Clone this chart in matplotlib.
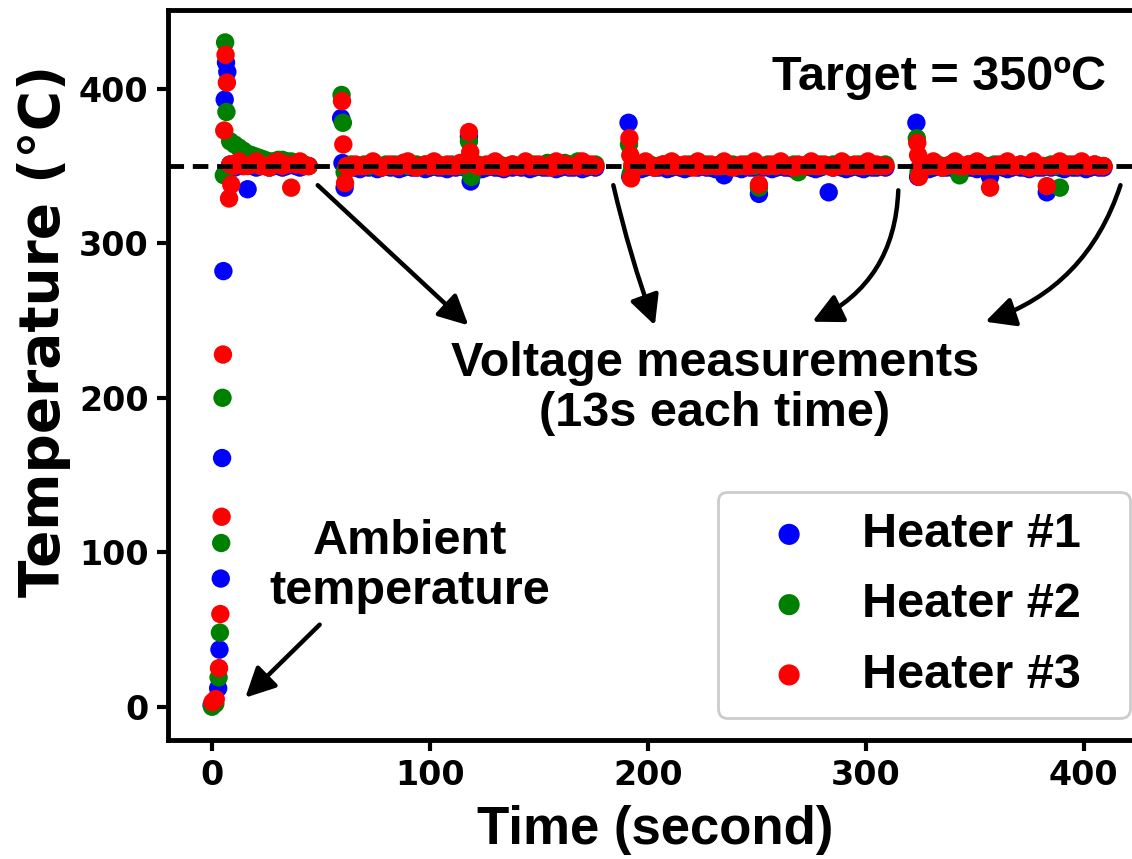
import numpy as np
import matplotlib
matplotlib.use("Agg")
import matplotlib.pyplot as plt

plt.rcParams["font.family"] = ["Liberation Sans", "DejaVu Sans"]
plt.rcParams["font.weight"] = "bold"

# ---------------------------------------------------------------- data
target_temp = 350
sample_dt = 2.0                      # logger interval during steady runs (s)
run_starts = [8.5, 62.0, 193.0, 325.0]

heater_names = ["Heater #1", "Heater #2", "Heater #3"]
heater_colors = ["blue", "green", "red"]

# warm-up from ambient
h1_startup_t = [0.0, 1.5, 3.0, 3.6, 4.2, 4.8, 5.4, 6.0, 6.6, 7.2]
h1_startup_T = [1, 2, 12, 37, 83, 161, 282, 393, 417, 411]
h2_startup_t = [0.2, 1.7, 3.2, 3.8, 4.4, 5.0, 5.6, 6.2, 6.8]
h2_startup_T = [0, 2, 19, 48, 106, 200, 344, 430, 385]
h3_startup_t = [0.4, 1.9, 3.4, 4.0, 4.6, 5.2, 5.8, 6.4, 7.0, 8.0, 9.0]
h3_startup_T = [3, 5, 25, 60, 123, 228, 373, 422, 404, 329, 338]

# restart transients after each voltage measurement
h1_kick_t = [59.4, 60.0, 61.0, 118.8, 191.2, 192.0, 323.2, 324.0]
h1_kick_T = [381, 352, 336, 340, 378, 343, 378, 343]
h2_kick_t = [59.6, 60.2, 61.0, 119.2, 191.4, 192.2, 323.4, 324.2]
h2_kick_T = [396, 378, 346, 343, 364, 345, 368, 346]
h3_kick_t = [59.8, 60.4, 61.2, 118.6, 191.6, 192.0, 192.4, 323.6, 324.0, 324.4]
h3_kick_T = [392, 364, 339, 359, 368, 357, 342, 365, 357, 343]

# steady runs (one list per run, sampled every sample_dt from run_starts)
h1_runs = [
    [351, 349, 350, 350, 335, 350, 349, 350, 351, 349, 350, 350, 349, 350,
     351, 350, 349, 350, 350],
    [349, 350, 349, 348, 350, 349, 350, 348, 349, 350,
     349, 350, 348, 349, 350, 349, 349, 350, 348, 349,
     350, 349, 349, 348, 350, 349, 350, 349, 369, 349,
     350, 348, 349, 350, 349, 349, 348, 350, 349, 350,
     349, 350, 348, 349, 350, 349, 349, 350, 348, 349,
     350, 349, 349, 350, 348, 349, 350, 349],
    [349, 350, 348, 349, 350, 349, 349, 350, 348, 349,
     350, 349, 348, 349, 350, 349, 350, 349, 349, 348,
     349, 344, 349, 350, 349, 348, 350, 349, 349, 332,
     349, 350, 348, 349, 350, 349, 349, 348, 350, 349,
     350, 349, 348, 349, 350, 333, 349, 350, 349, 348,
     349, 350, 349, 348, 350, 349, 349, 350, 349],
    [349, 350, 348, 349, 350, 349, 349, 350, 348, 349,
     350, 349, 349, 348, 350, 349, 343, 349, 350, 349,
     348, 349, 350, 349, 349, 348, 350, 349, 349, 333,
     349, 350, 349, 348, 350, 349, 349, 350, 348, 349,
     350, 349, 349],
]
h2_runs = [
    [366, 364, 362, 360, 358, 357, 356, 355, 354, 353, 353, 354, 354, 353,
     353, 352, 352, 351, 350],
    [350, 351, 350, 350, 351, 350, 351, 350, 350, 351,
     350, 351, 350, 352, 350, 350, 351, 350, 351, 350,
     350, 351, 350, 350, 351, 350, 350, 351, 366, 350,
     351, 350, 350, 351, 350, 351, 350, 350, 351, 350,
     350, 351, 350, 351, 350, 350, 352, 351, 350, 351,
     352, 351, 350, 353, 352, 351, 350, 351],
    [350, 351, 350, 350, 351, 350, 350, 351, 350, 350,
     351, 350, 350, 351, 350, 352, 350, 351, 350, 350,
     351, 350, 350, 351, 350, 350, 351, 350, 350, 336,
     350, 351, 350, 350, 351, 350, 350, 351, 346, 350,
     351, 350, 350, 351, 350, 350, 351, 350, 350, 351,
     350, 350, 351, 350, 350, 351, 350, 350, 351],
    [350, 351, 350, 350, 351, 350, 350, 351, 350, 344,
     350, 351, 350, 350, 351, 350, 350, 351, 350, 350,
     351, 350, 350, 351, 350, 350, 351, 350, 350, 350,
     351, 350, 336, 350, 351, 350, 350, 351, 350, 350,
     351, 350, 350],
]
h3_runs = [
    [351, 350, 353, 350, 350, 351, 353, 350, 350, 349, 352, 353, 350, 351,
     336, 351, 353, 350, 350],
    [350, 349, 351, 350, 350, 351, 353, 350, 349, 350,
     351, 350, 350, 352, 353, 350, 349, 350, 351, 350,
     353, 350, 350, 351, 350, 350, 352, 351, 372, 352,
     350, 350, 351, 350, 353, 350, 349, 350, 351, 350,
     350, 353, 350, 350, 351, 350, 350, 349, 353, 350,
     351, 350, 350, 350, 353, 350, 351, 350],
    [351, 350, 350, 353, 350, 349, 350, 351, 350, 353,
     350, 350, 351, 350, 349, 353, 350, 350, 351, 350,
     350, 353, 350, 349, 350, 351, 350, 350, 353, 338,
     350, 350, 351, 350, 353, 350, 350, 349, 351, 350,
     350, 353, 350, 350, 351, 350, 349, 350, 353, 350,
     350, 351, 350, 350, 353, 350, 351, 350, 350],
    [350, 351, 350, 353, 350, 349, 350, 351, 353, 350,
     350, 351, 350, 353, 350, 350, 336, 350, 351, 350,
     353, 350, 350, 351, 350, 349, 353, 350, 350, 337,
     350, 351, 353, 350, 350, 351, 350, 353, 350, 350,
     351, 350, 350],
]

x_ticks = [0, 100, 200, 300, 400]
y_ticks = [0, 100, 200, 300, 400]


def assemble(startup_t, startup_T, kick_t, kick_T, runs):
    t = list(startup_t) + list(kick_t)
    T = list(startup_T) + list(kick_T)
    for start, vals in zip(run_starts, runs):
        t += list(start + sample_dt * np.arange(len(vals)))
        T += list(vals)
    return np.array(t), np.array(T)


series = [
    assemble(h1_startup_t, h1_startup_T, h1_kick_t, h1_kick_T, h1_runs),
    assemble(h2_startup_t, h2_startup_T, h2_kick_t, h2_kick_T, h2_runs),
    assemble(h3_startup_t, h3_startup_T, h3_kick_t, h3_kick_T, h3_runs),
]

# ---------------------------------------------------------------- figure
fig = plt.figure(figsize=(11.32, 8.59), dpi=100)
ax = fig.add_axes([168 / 1132, 1 - 740 / 859, 966 / 1132, 730 / 859])

for (t, T), name, color in zip(series, heater_names, heater_colors):
    ax.scatter(t, T, s=175, color=color, edgecolors="none", label=name,
               zorder=3)

ax.axhline(target_temp, color="black", lw=3.5, ls=(0, (3.2, 1.8)), zorder=4)

ax.set_xlim(-20, 423)
ax.set_ylim(-21.5, 451)
ax.set_xticks(x_ticks)
ax.set_yticks(y_ticks)
ax.tick_params(axis="both", direction="out", length=8, width=3, pad=6)
for lab in ax.get_xticklabels() + ax.get_yticklabels():
    lab.set_family("DejaVu Sans")
    lab.set_fontweight("bold")
    lab.set_fontsize(24)
for side in ["left", "bottom", "top", "right"]:
    ax.spines[side].set_linewidth(3.5)

ax.set_xlabel("Time (second)", fontsize=38, fontweight="bold", va="center")
ax.xaxis.set_label_coords(0.504, -0.123)
ax.set_ylabel("Temperature (°C)", fontsize=39.5, fontweight="bold",
              family="DejaVu Sans", va="center")
ax.yaxis.set_label_coords(-0.128, 0.561)

txt = dict(fontsize=35, fontweight="bold", ha="center", va="center",
           transform=ax.transAxes)
ax.text(0.798, 0.907, "Target = 350ºC", **txt)
ax.text(0.566, 0.481, "Voltage measurements\n(13s each time)",
        linespacing=1.15, **txt)
ax.text(0.2505, 0.238, "Ambient\ntemperature", linespacing=1.15, **txt)

arrow = dict(arrowstyle="-|>,head_length=0.6,head_width=0.3", lw=3.2,
             color="black", mutation_scale=30, shrinkA=0, shrinkB=0)
arrows = [
    ((0.155, 0.760), (0.311, 0.568), 0.0),
    ((0.461, 0.760), (0.504, 0.568), 0.03),
    ((0.756, 0.753), (0.667, 0.573), -0.3),
    ((0.986, 0.760), (0.846, 0.573), -0.25),
    ((0.157, 0.158), (0.080, 0.058), 0.0),
]
for tail, head, rad in arrows:
    ax.annotate("", xy=head, xytext=tail, xycoords="axes fraction",
                textcoords="axes fraction",
                arrowprops=dict(connectionstyle=f"arc3,rad={rad}", **arrow),
                zorder=5)

leg = ax.legend(loc="lower left", bbox_to_anchor=(0.569, 0.030, 0.427, 0.30),
                mode="expand", fontsize=35, markerscale=1.15,
                handlelength=2.1, handletextpad=0.45, labelspacing=0.52,
                borderpad=0.42, frameon=True, fancybox=True, framealpha=1,
                borderaxespad=0)
leg.get_frame().set_edgecolor("#cccccc")
leg.get_frame().set_linewidth(2)
for t in leg.get_texts():
    t.set_fontweight("bold")

fig.savefig("out.png", dpi=100)
